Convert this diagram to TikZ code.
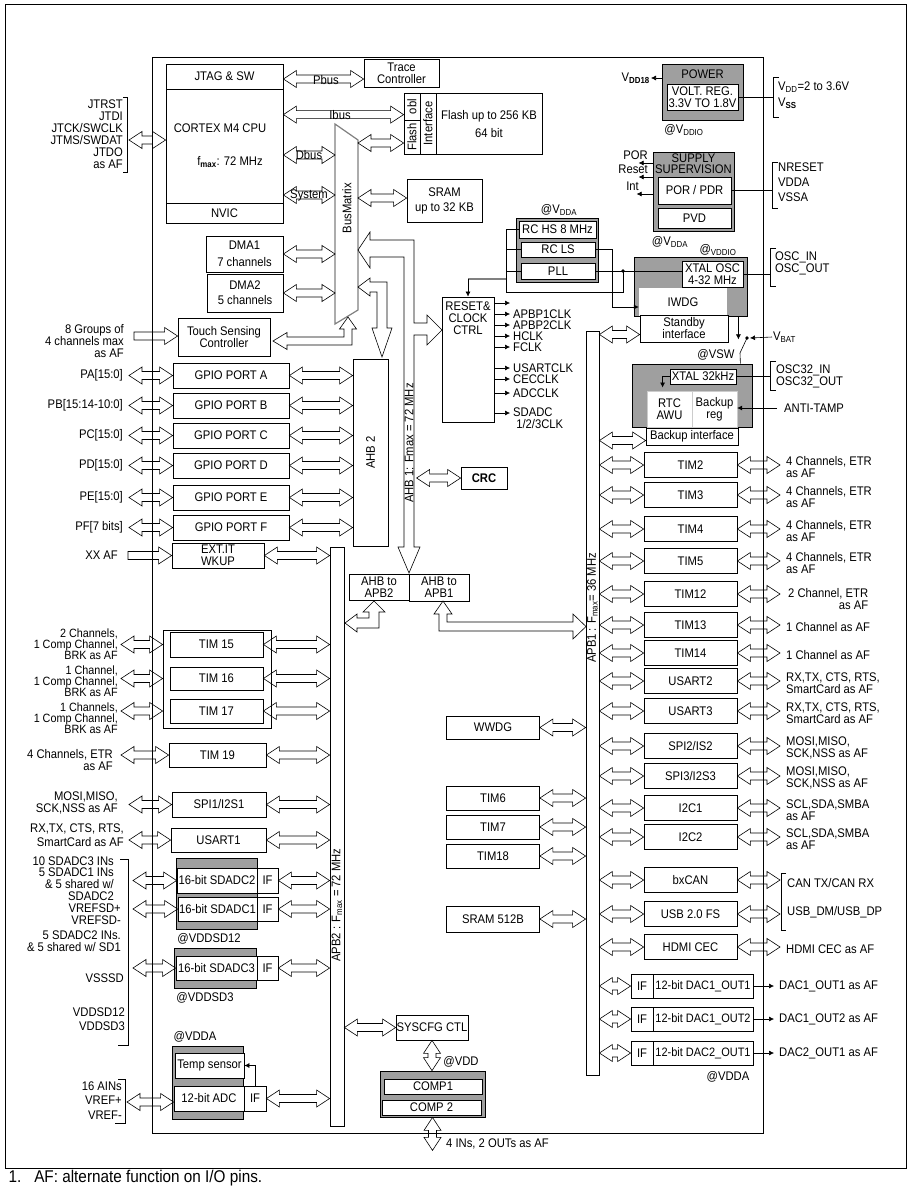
\documentclass[tikz,border=0pt]{standalone}
\usepackage{fontspec}
\setmainfont{Liberation Sans}[FakeStretch=0.9]
\usetikzlibrary{calc,arrows.meta}

\colorlet{blkgray}{gray!75}

\tikzset{
  blk/.style={draw, line width=0.8pt, inner sep=0pt, align=center},
  gblk/.style={blk, fill=blkgray},
  wblk/.style={blk, fill=white},
  wh/.style 2 args={minimum width=#1, minimum height=#2},
  busarrow/.style={line width=0.6pt},
  thin line/.style={line width=0.6pt},
  sig/.style={line width=0.6pt, -{Latex[length=5pt,width=5pt]}},
  lbl/.style={align=left, anchor=west, inner sep=1pt},
  pinl/.style={align=right, anchor=east, inner sep=1pt},
  rot/.style={rotate=90},
}

% hollow bus arrows (left point first, y taken from the first point)
\newcommand\hbus[2]{%
  \draw[busarrow] let \p1=#1, \p2=#2 in
    (\x1,\y1) -- (\x1+13pt,\y1+8.5pt) -- (\x1+13pt,\y1+4pt) -- (\x2-13pt,\y1+4pt)
    -- (\x2-13pt,\y1+8.5pt) -- (\x2,\y1) -- (\x2-13pt,\y1-8.5pt) -- (\x2-13pt,\y1-4pt)
    -- (\x1+13pt,\y1-4pt) -- (\x1+13pt,\y1-8.5pt) -- cycle;}
\newcommand\hbusr[2]{%
  \draw[busarrow] let \p1=#1, \p2=#2 in
    (\x1,\y1+4pt) -- (\x2-13pt,\y1+4pt) -- (\x2-13pt,\y1+8.5pt) -- (\x2,\y1)
    -- (\x2-13pt,\y1-8.5pt) -- (\x2-13pt,\y1-4pt) -- (\x1,\y1-4pt) -- cycle;}
\newcommand\vbus[2]{%
  \draw[busarrow] let \p1=#1, \p2=#2 in
    (\x1,\y1) -- (\x1+8.5pt,\y1-13pt) -- (\x1+4pt,\y1-13pt) -- (\x1+4pt,\y2+13pt)
    -- (\x1+8.5pt,\y2+13pt) -- (\x1,\y2) -- (\x1-8.5pt,\y2+13pt) -- (\x1-4pt,\y2+13pt)
    -- (\x1-4pt,\y1-13pt) -- (\x1-8.5pt,\y1-13pt) -- cycle;}

\begin{document}
\begin{tikzpicture}[x=1pt, y=-1pt, font=\fontsize{12.5}{12}\selectfont,
    every node/.style={align=center}]
\useasboundingbox (0,0) rectangle (918,1200);

% frames
\draw[line width=0.8pt] (5,4) rectangle (906,1168);
\draw[line width=0.8pt] (152,57) rectangle (763,1133);
\coordinate (pinA) at (129,0);
\coordinate (pinT) at (121,0);
\coordinate (pinS) at (133,0);
\coordinate (pinR) at (780,0);

% core
\node[blk, wh={117}{25}] (jtag) at (224.5,76.5) {JTAG \& SW};
\node[blk, wh={117}{114}] (cpu) at (224.5,146) {};
\node[blk, wh={117}{20}] (nvic) at (224.5,213) {NVIC};
\node (cpuname) at (220,128) {CORTEX M4 CPU};
\node (cpufreq) at (230,162) {f\textsubscript{\textbf{max}}: 72 MHz};
\node[pinl] (jtagpins) at (124,134.5) {JTRST\\JTDI\\JTCK/SWCLK\\JTMS/SWDAT\\JTDO\\as AF};
\draw[thin line] (123,97) -- (127,97) -- (127,172) -- (123,172);
\hbus{($(jtagpins.east)+(5,5.5)$)}{(cpu.west)};

\node[blk, wh={75}{28}] (trace) at (401.5,73) {Trace\\Controller};
\hbus{($(jtag.east)+(0,2.5)$)}{(trace.west)};
\node (pbus) at (326,80) {Pbus};

\node[blk, wh={138}{61}] (flash) at (473,123.5) {};
\draw[line width=0.8pt] (420,93) -- (420,154) (436,93) -- (436,154) (404,120) -- (420,120);
\node[rot] (obl) at (412,106.5) {obl};
\node[rot] (flashcol) at (412,137) {Flash};
\node[rot] (flashif) at (428,123.5) {Interface};
\node (flashmem) at (489,124) {Flash up to 256 KB\\[6pt]64 bit};
\hbus{($(cpu.north east)+(0,26)$)}{(flash.west)};
\node (ibus) at (340,115) {Ibus};

% bus matrix
\draw[draw=gray, line width=1.2pt, fill=white] (335,124) -- (358,140) -- (358,310) -- (335,324) -- cycle;
\coordinate (bmL) at (335,0);
\coordinate (bmR) at (358,0);
\node[rot] (busmatrix) at (347,208) {BusMatrix};
\hbus{($(cpu.east)+(0,9)$)}{(bmL)};
\node (dbus) at (309,155) {Dbus};
\hbus{($(cpu.east)+(0,49)$)}{(bmL)};
\node (sysbus) at (309,195) {System};
\hbus{($(bmR)+(0,143)$)}{(flash.west)};
\node[blk, wh={75}{43}] (sram) at (444.5,200.5) {SRAM\\[3pt]up to 32 KB};
\hbus{($(bmR)+(0,198)$)}{(sram.west)};

\node[blk, wh={77}{36}] (dma1) at (244.5,254) {DMA1\\[5pt]7 channels};
\hbus{(dma1.east)}{(bmL)};
\node[blk, wh={76}{38}] (dma2) at (245,293) {DMA2\\[3pt]5 channels};
\hbus{(dma2.east)}{(bmL)};

\node[blk, wh={92}{38}] (touch) at (224,337) {Touch Sensing\\Controller};
\node[pinl] (touchpins) at (125,341) {8 Groups of\\4 channels max\\as AF};
\hbusr{($(pinA |- touch.west)+(5,-1)$)}{(touch.west)};
\draw[busarrow] (273,341) -- (287,332.5) -- (287,337) -- (344,337) -- (344,329) -- (339.5,329)
  -- (348,317) -- (356.5,329) -- (352,329) -- (352,345) -- (287,345) -- (287,349.5) -- cycle;

% AHB1 and AHB2 from the bus matrix
\draw[busarrow] (358,250) -- (370,232) -- (370,240) -- (414,240) -- (414,323) -- (427,323)
  -- (427,315) -- (442,330) -- (427,345) -- (427,335) -- (414,335) -- (414,547) -- (420,547)
  -- (409,573) -- (398,547) -- (404,547) -- (404,257) -- (370,257) -- (370,268) -- cycle;
\node[rot] (ahb1txt) at (409,443) {AHB 1: Fmax = 72 MHz};
\draw[busarrow] (358,287) -- (370,278) -- (370,282) -- (387,282) -- (387,328) -- (392,328)
  -- (382,357) -- (372,328) -- (377,328) -- (377,292) -- (370,292) -- (370,296) -- cycle;
\node[blk, wh={35}{187}] (ahb2) at (370.5,452.5) {};
\node[rot] (ahb2txt) at (370.5,452.5) {AHB 2};

% GPIO ports
\foreach \port/\yy/\pins in {A/375.5/{PA[15:0]}, B/405.5/{PB[15:14-10:0]}, C/435.5/{PC[15:0]},
    D/465.5/{PD[15:0]}, E/497.5/{PE[15:0]}, F/527.5/{PF[7 bits]}} {
  \node[blk, wh={116}{25}] (gpio\port) at (231,\yy) {GPIO PORT \port};
  \node[pinl] (pins\port) at (124,\yy) {\pins};
  \hbus{(pinA |- gpio\port.west)}{(gpio\port.west)};
  \hbus{(gpio\port.east)}{(ahb2.west)};
}

\node[blk, wh={92}{25}] (extit) at (218,555.5) {EXT.IT\\WKUP};
\node[pinl] (xxaf) at (119,555) {XX AF};
\hbusr{($(pinA |- extit.west)+(-1,0)$)}{(extit.west)};

% APB buses and bridges
\node[blk, wh={14}{579}] (apb2) at (337,836.5) {};
\node[rot] (apb2txt) at (337,905) {APB2 : F\textsubscript{max} = 72 MHz};
\node[blk, wh={13}{744}] (apb1) at (592.5,703) {};
\node[rot] (apb1txt) at (592.5,608) {APB1 : F\textsubscript{max}= 36 MHz};
\hbus{(extit.east)}{(apb2.west)};
\node[blk, wh={60}{26}] (ahbapb2) at (379,587) {AHB to\\APB2};
\node[blk, wh={60}{27}] (ahbapb1) at (439,587.5) {AHB to\\APB1};
\draw[busarrow] (345,623) -- (357,614) -- (357,618) -- (369,618) -- (369,612) -- (363,612)
  -- (374,601) -- (385,612) -- (379,612) -- (379,628) -- (357,628) -- (357,632) -- cycle;
\draw[busarrow] (443,601) -- (452,614) -- (447,614) -- (447,622) -- (573,622) -- (573,614)
  -- (586,626.5) -- (573,639) -- (573,631) -- (439,631) -- (439,614) -- (434,614) -- cycle;

\node[blk, wh={46}{22}] (crc) at (484,478) {\textbf{CRC}};
\hbus{($(crc.west)+(-44,0)$)}{(crc.west)};

% reset and clock control
\node[blk, wh={52}{125}] (rcc) at (468,359.5) {};
\node (rcctxt) at (468,318) {RESET\&\\CLOCK\\CTRL};
\foreach \id/\txt/\yy in {ck0//303, ck1/APBP1CLK/314, ck2/APBP2CLK/325, ck3/HCLK/336,
    ck4/FCLK/347, ck5/USARTCLK/368, ck6/CECCLK/379, ck7/ADCCLK/393} {
  \node[lbl, inner sep=3pt] (\id) at (510,\yy) {\txt};
  \draw[sig] (rcc.east |- \id.west) -- (\id.west);
}
\node[lbl, inner sep=3pt] (ck8) at (510,418) {SDADC\\\ 1/2/3CLK};
\draw[sig] ($(rcc.east |- ck8.west)+(0,-5)$) -- ($(ck8.west)+(0,-5)$);

% clock sources
\node[gblk, wh={82}{64}] (rcbox) at (557,250) {};
\node[wblk, wh={77}{17}] (rchs) at (557.5,229.5) {RC HS 8 MHz};
\node[wblk, wh={74}{15}] (rcls) at (558,249.5) {RC LS};
\node[wblk, wh={74}{16}] (pll) at (558,271) {PLL};
\node (vdda1) at (559,210) {@V\textsubscript{DDA}};

\node[gblk, wh={113}{59}] (iwdgbox) at (690.5,286.5) {};
\node[fill=white, wh={88}{28}, inner sep=0pt] (iwdg) at (683,302) {IWDG};
\node[wblk, wh={61}{26}] (xtal) at (712.5,274) {XTAL OSC\\4-32 MHz};
\node (vddio2) at (718,250) {@\textsubscript{VDDIO}};
\node[wblk, wh={88}{27}] (standby) at (684,328.5) {Standby\\interface};
\hbus{($(apb1.east |- standby.west)+(0,6)$)}{(standby.west)};

\coordinate (rcbot) at (506,292);
\coordinate (rcgray) at (506,279);
\coordinate (pllsplit) at (623,271);
\draw[thin line] (rchs.west) -- (rchs.west -| rcbot) -- (rcbot) -| (pllsplit);
\draw[thin line] (rcls.west) -- (rcls.west -| rcbot) (pll.west) -- (pll.west -| rcbot);
\draw[gray, line width=1.5pt] (rcgray) -- (rcgray -| rcc.north);
\draw[sig] (rcgray -| rcc.north) -- (rcc.north);
\draw[thin line] (pll.east) -- (pll.east -| xtal.west);
\fill (pllsplit) circle (1.8pt);
\draw[sig] (rcls.east) -- ++(17,0) |- ($(iwdg.west)+(0,5)$);
\draw[thin line] (xtal.east) -- (770,274);
\draw[thin line] (776,248) -- (770,248) -- (770,286) -- (776,286);
\node[lbl] (osc) at (774,263) {OSC\_IN\\OSC\_OUT};

% power
\node[gblk, wh={81}{56}] (power) at (702.5,92) {};
\node (powertitle) at (702.5,74) {POWER};
\node[wblk, wh={71}{26}] (voltreg) at (702.5,97) {VOLT. REG.\\3.3V TO 1.8V};
\node[pinl] (vdd18) at (651,78) {V\textsubscript{\textbf{DD18}}};
\draw[sig] (vdd18.east -| power.west) -- (vdd18.east);
\node (vddio1) at (684,130) {@V\textsubscript{DDIO}};
\draw[thin line] (voltreg.east) -- (773,97);
\draw[thin line] (779,77) -- (773,77) -- (773,117) -- (779,117);
\node[lbl] (vddrange) at (777,87) {V\textsubscript{DD}=2 to 3.6V};
\node[lbl] (vss) at (777,103) {V\textsubscript{\textbf{SS}}};

\node[gblk, wh={81}{79}] (supbox) at (693.5,191.5) {};
\node[font=\fontsize{12.5}{11}\selectfont] (suptitle) at (693.5,164) {SUPPLY\\SUPERVISION};
\node[wblk, wh={73}{27}] (porpdr) at (694.5,190.5) {POR / PDR};
\node[wblk, wh={73}{20}] (pvd) at (694.5,218) {PVD};
\node[pinl] (por) at (649,155) {POR};
\node[pinl] (rst) at (649,169) {Reset};
\node[pinl] (int) at (640,186) {Int};
\draw[sig] ($(supbox.west)+(0,-28.5)$) -- ++(-14,0);
\draw[sig] ($(supbox.west)+(0,-14.5)$) -- ++(-14,0);
\draw[sig] ($(supbox.west)+(0,2.5)$) -- ++(-16,0);
\node (vdda2) at (670,242) {@V\textsubscript{DDA}};
\draw[thin line] (porpdr.east) -- (772,190.5);
\draw[thin line] (778,162) -- (772,162) -- (772,208) -- (778,208);
\node[lbl, font=\fontsize{12.5}{15}\selectfont] (suppins) at (777,182) {NRESET\\VDDA\\VSSA};

% backup domain
\node[gblk, wh={120}{63}] (rtcbox) at (692,395.5) {};
\node[wblk, wh={66}{15}] (xtal32) at (703,376.5) {XTAL 32kHz};
\node[fill=white, draw=gray!40, wh={45}{36}, inner sep=0pt] (rtc) at (669.5,409) {RTC\\AWU};
\node[fill=white, draw=gray!40, wh={45}{36}, inner sep=0pt] (bkreg) at (714.5,409) {Backup\\reg};
\node[wblk, wh={92}{17}] (bkif) at (692,436.5) {Backup interface};
\draw[sig] (xtal32.west) -| ++(-7,11);
\hbus{($(apb1.east |- bkif.west)+(0,4)$)}{(bkif.west)};
\draw[thin line] (xtal32.east) -- (770,376.5);
\draw[thin line] (776,361) -- (770,361) -- (770,390) -- (776,390);
\node[lbl] (osc32) at (775,376.5) {OSC32\_IN\\OSC32\_OUT};
\node[lbl] (antitamp) at (783,408) {ANTI-TAMP};
\draw[sig] ($(antitamp.west)+(-6,0)$) -- (bkreg.east |- antitamp.west);

\node[lbl] (vbat) at (772,337) {V\textsubscript{BAT}};
\coordinate (vsw) at (747,338);
\fill (vsw) circle (1.8pt);
\draw[sig] (vbat.west) -- ($(vsw)+(3,0)$);
\draw[sig] ($(iwdgbox.south east)+(-9,0)$) -- ++(0,23);
\draw[thin line] (vsw) -- (740,353) -- ($(rtcbox.north east)+(-12,0)$);
\node (vswtxt) at (716,355) {@VSW};

% APB1 peripherals
\foreach \id/\txt/\yy/\af in {tim2/TIM2/465/{4 Channels, ETR\\as AF},
    tim3/TIM3/495/{4 Channels, ETR\\as AF}, tim4/TIM4/529/{4 Channels, ETR\\as AF},
    tim5/TIM5/561/{4 Channels, ETR\\as AF}, tim12/TIM12/594/{},
    tim13/TIM13/625/{1 Channel as AF}, tim14/TIM14/653/{1 Channel as AF},
    usart2/USART2/681/{RX,TX, CTS, RTS,\\SmartCard as AF},
    usart3/USART3/711/{RX,TX, CTS, RTS,\\SmartCard as AF},
    spi2/{SPI2/IS2}/746/{MOSI,MISO,\\SCK,NSS as AF},
    spi3/{SPI3/I2S3}/776/{MOSI,MISO,\\SCK,NSS as AF},
    i2c1/I2C1/808/{SCL,SDA,SMBA\\as AF}, i2c2/I2C2/837/{SCL,SDA,SMBA\\as AF},
    bxcan/bxCAN/880/{}, usb/USB 2.0 FS/914/{}, hdmi/HDMI CEC/947/{HDMI CEC as AF}} {
  \node[blk, wh={93}{25}] (\id) at (690.5,\yy) {\txt};
  \hbus{(apb1.east |- \id.west)}{(\id.west)};
  \hbus{(\id.east)}{(pinR)};
  \node[lbl] (\id-af) at (785,\yy+2) {\af};
}
\node[lbl, align=right] (tim12-af) at (787,599) {2 Channel, ETR\\as AF};
\draw[thin line] (786,873) -- (781,873) -- (781,930) -- (786,930);
\node[lbl] (canpins) at (786,883) {CAN TX/CAN RX};
\node[lbl] (usbpins) at (786,912) {USB\_DM/USB\_DP};

\foreach \i/\txt/\yy/\af in {1/{12-bit DAC1\_OUT1}/986/{DAC1\_OUT1 as AF},
    2/{12-bit DAC1\_OUT2}/1019/{DAC1\_OUT2 as AF}, 3/{12-bit DAC2\_OUT1}/1053/{DAC2\_OUT1 as AF}} {
  \node[blk, wh={22}{24}] (dacif\i) at (642,\yy) {IF};
  \node[blk, wh={100}{24}, font=\fontsize{12.2}{12}\selectfont] (dac\i) at (703,\yy) {\txt};
  \hbus{(apb1.east |- dacif\i.west)}{(dacif\i.west)};
  \node[lbl] (dacaf\i) at (778,\yy) {\af};
  \draw[sig] (dac\i.east) -- ($(dacaf\i.west)+(-4,0)$);
}
\node (vdda4) at (728,1077) {@VDDA};

% APB1 internal peripherals
\foreach \id/\txt/\yy/\hh in {wwdg/WWDG/727.5/23, tim6/TIM6/798/24, tim7/TIM7/827/24,
    tim18/TIM18/856/24, sram512/SRAM 512B/919/26} {
  \node[blk, wh={93}{\hh}] (\id) at (493,\yy) {\txt};
  \hbus{(\id.east)}{(apb1.west)};
}

% APB2 peripherals
\node[blk, wh={108}{98}] (tgrp) at (217,679) {};
\foreach \id/\txt/\yy/\hh/\ly/\af in {tim15/TIM 15/644.5/25/644.5/{2 Channels,\\1 Comp Channel,\\BRK as AF},
    tim16/TIM 16/678.5/23/681/{1 Channel,\\1 Comp Channel,\\BRK as AF},
    tim17/TIM 17/711/24/718/{1 Channels,\\1 Comp Channel,\\BRK as AF}} {
  \node[blk, wh={93}{\hh}] (\id) at (216.5,\yy) {\txt};
  \node[pinl, font=\fontsize{12}{10.8}\selectfont] (\id-af) at (119,\ly) {\af};
  \hbus{(pinT |- \id.west)}{(tgrp.west)};
  \hbus{(\id.east)}{(apb2.west)};
}
\node[blk, wh={97}{24}] (tim19) at (217.5,755) {TIM 19};
\node[pinl] (tim19-af) at (114,760) {4 Channels, ETR\\as AF};
\hbus{(pinT |- tim19.west)}{(tim19.west)};
\hbus{(tim19.east)}{(apb2.west)};
\node[blk, wh={94}{25}] (spi1) at (219,804.5) {SPI1/I2S1};
\node[pinl] (spi1-af) at (119,802.5) {MOSI,MISO,\\SCK,NSS as AF};
\hbus{(pinA |- spi1.west)}{(spi1.west)};
\hbus{(spi1.east)}{(apb2.west)};
\node[blk, wh={95}{24}] (usart1) at (218.5,840) {USART1};
\node[pinl, font=\fontsize{12.5}{14}\selectfont] (usart1-af) at (125,835) {RX,TX, CTS, RTS,\\SmartCard as AF};
\hbus{(pinA |- usart1.west)}{(usart1.west)};
\hbus{(usart1.east)}{(apb2.west)};

% sigma-delta ADCs
\node[gblk, wh={81}{71}] (sd12box) at (216.5,893.5) {};
\node[wblk, wh={80}{25}] (sdadc2) at (217,880.5) {16-bit SDADC2};
\node[wblk, wh={21}{25}] (sdif2) at (267.5,880.5) {IF};
\node[wblk, wh={79}{24}] (sdadc1) at (217.5,909) {16-bit SDADC1};
\node[wblk, wh={21}{24}] (sdif1) at (267.5,909) {IF};
\node (vddsd12) at (209,939) {@VDDSD12};
\node[gblk, wh={82}{40}] (sd3box) at (215,968) {};
\node[wblk, wh={81}{24}] (sdadc3) at (216.5,968) {16-bit SDADC3};
\node[wblk, wh={21}{24}] (sdif3) at (267.5,968) {IF};
\node (vddsd3) at (205,998) {@VDDSD3};
\foreach \i in {1,2,3} {
  \hbus{(pinS |- sdadc\i.west)}{(sdadc\i.west)};
  \hbus{(sdif\i.east)}{(apb2.west)};
}
\node[pinl, font=\fontsize{12.5}{11.7}\selectfont] (sdin) at (115,878.5) {10 SDADC3 INs\\5 SDADC1 INs\\\& 5 shared w/\\SDADC2};
\node[pinl] (vrefsd) at (122,914.5) {VREFSD+\\VREFSD-};
\node[pinl] (sd2in) at (122,941) {5 SDADC2 INs.\\\& 5 shared w/ SD1};
\node[pinl] (vsssd) at (125,978) {VSSSD};
\node[pinl, font=\fontsize{12.5}{14}\selectfont] (vddsd) at (126,1019) {VDDSD12\\VDDSD3};
\draw[thin line] (120,859) -- (128,859) -- (128,1045) -- (118,1045);

% ADC
\node[gblk, wh={71}{73}] (adcbox) at (207.5,1082.5) {};
\node[wblk, wh={69}{25}] (temp) at (209.5,1065.5) {Temp sensor};
\node[wblk, wh={70}{25}] (adc) at (209,1098.5) {12-bit ADC};
\node[wblk, wh={22}{25}] (adcif) at (255,1098.5) {IF};
\draw[sig] (adcif.north) |- (temp.east);
\node (vdda3) at (195,1037) {@VDDA};
\node[pinl, font=\fontsize{12.5}{14.5}\selectfont] (adcpins) at (123,1100.5) {16 AINs\\VREF+\\VREF-};
\draw[thin line] (118,1079) -- (125,1079) -- (125,1123) -- (115,1123);
\hbus{($(adc.west -| pinA)+(-2,3.5)$)}{(adc.west)};
\hbus{(adcif.east)}{(apb2.west)};

% system config and comparators
\node[blk, wh={72}{25}] (syscfg) at (432,1027.5) {SYSCFG CTL};
\hbus{(apb2.east |- syscfg.west)}{(syscfg.west)};
\node[gblk, wh={105}{46}] (comp) at (432.5,1094) {};
\node[wblk, wh={98}{15}] (comp1) at (433,1086.5) {COMP1};
\node[wblk, wh={99}{15}] (comp2) at (431.5,1107.5) {COMP 2};
\vbus{(syscfg.south)}{(comp.north)};
\node (vdd) at (461,1062) {@VDD};
\node[lbl] (compaf) at (445,1144) {4 INs, 2 OUTs as AF};
\vbus{(comp.south)}{(comp.south |- compaf.south)};

\node[anchor=west, font=\fontsize{17}{17}\selectfont] (note) at (5,1178) {1.\hspace{13pt}AF: alternate function on I/O pins.};
\end{tikzpicture}
\end{document}
